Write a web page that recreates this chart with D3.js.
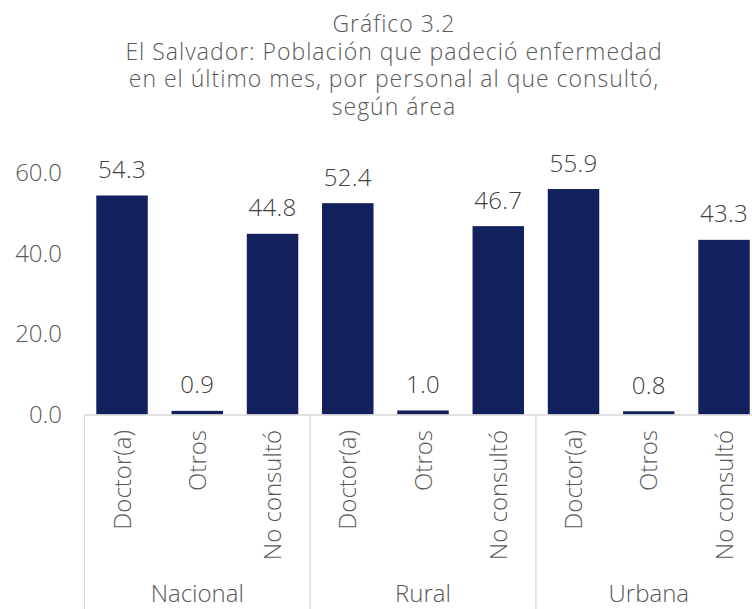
<!DOCTYPE html>
<html>
<head>
<meta charset="utf-8">
<script src="https://cdn.jsdelivr.net/npm/d3@7"></script>
<style>
  body { margin: 0; background: #fff; }
  svg { display: block; font-family: "Open Sans", Lato, sans-serif; font-weight: 300; }
</style>
</head>
<body>
<div id="chart"></div>
<script>
const titleLines = ['Gráfico 3.2', 'El Salvador: Población que padeció enfermedad', 'en el último mes, por personal al que consultó,', 'según área'];
const groups = ['Nacional', 'Rural', 'Urbana'];
const subcats = ['Doctor(a)', 'Otros', 'No consultó'];
const values = [
  [54.3, 0.9, 44.8],
  [52.4, 1.0, 46.7],
  [55.9, 0.8, 43.3]
];
const yTicks = [0, 20, 40, 60];

const width = 752, height = 609;
const svg = d3.select('#chart').append('svg')
  .attr('width', width)
  .attr('height', height);

const textColor = '#595959';
const fs = 24;

// title
svg.append('g').selectAll('text')
  .data(titleLines)
  .enter().append('text')
  .attr('x', 394)
  .attr('y', (d, i) => 32 + i * 27.6)
  .attr('text-anchor', 'middle')
  .attr('font-size', 23)
  .attr('letter-spacing', 1)
  .attr('fill', textColor)
  .text(d => d);

const rows = [];
groups.forEach((g, gi) => {
  subcats.forEach((c, ci) => {
    rows.push({ key: g + '|' + c, group: g, cat: c, value: values[gi][ci] });
  });
});

const x0 = 84.4, step = 75.25;
const x = d3.scaleBand()
  .domain(rows.map(d => d.key))
  .range([x0, x0 + step * rows.length])
  .paddingInner(0.316)
  .paddingOuter(0.158);

const y = d3.scaleLinear()
  .domain([0, 60])
  .range([414.5, 172.5]);

// y axis labels
svg.append('g').selectAll('text')
  .data(yTicks)
  .enter().append('text')
  .attr('x', 62)
  .attr('y', d => y(d) + 8.5)
  .attr('text-anchor', 'end')
  .attr('font-size', fs)
  .attr('fill', textColor)
  .text(d => d3.format('.1f')(d));

// bars
svg.append('g').selectAll('rect')
  .data(rows)
  .enter().append('rect')
  .attr('x', d => x(d.key))
  .attr('width', x.bandwidth())
  .attr('y', d => y(d.value))
  .attr('height', d => y(0) - y(d.value))
  .attr('fill', '#13205e');

// value labels
svg.append('g').selectAll('text')
  .data(rows)
  .enter().append('text')
  .attr('x', d => x(d.key) + x.bandwidth() / 2)
  .attr('y', d => y(d.value) - 17.5)
  .attr('text-anchor', 'middle')
  .attr('font-size', fs)
  .attr('letter-spacing', 0.3)
  .attr('fill', '#404040')
  .text(d => d3.format('.1f')(d.value));

// category axis
const axisColor = '#d9d9d9';
svg.append('line')
  .attr('x1', x0).attr('x2', width)
  .attr('y1', y(0) + 0.5).attr('y2', y(0) + 0.5)
  .attr('stroke', axisColor).attr('stroke-width', 1.3);

const groupEdges = d3.range(groups.length + 1).map(i => x0 + i * step * subcats.length);
svg.append('g').selectAll('line')
  .data(groupEdges)
  .enter().append('line')
  .attr('x1', d => d).attr('x2', d => d)
  .attr('y1', y(0)).attr('y2', height)
  .attr('stroke', axisColor).attr('stroke-width', 1.3);

// sub-category labels (rotated)
svg.append('g').selectAll('text')
  .data(rows)
  .enter().append('text')
  .attr('transform', d => `translate(${x(d.key) + x.bandwidth() / 2 + 8.5}, 430) rotate(-90)`)
  .attr('text-anchor', 'end')
  .attr('font-size', fs)
  .attr('fill', textColor)
  .text(d => d.cat);

// group labels
svg.append('g').selectAll('text')
  .data(groups)
  .enter().append('text')
  .attr('x', (d, i) => groupEdges[i] + step * subcats.length / 2)
  .attr('y', 602)
  .attr('text-anchor', 'middle')
  .attr('font-size', fs)
  .attr('fill', textColor)
  .text(d => d);
</script>
</body>
</html>
